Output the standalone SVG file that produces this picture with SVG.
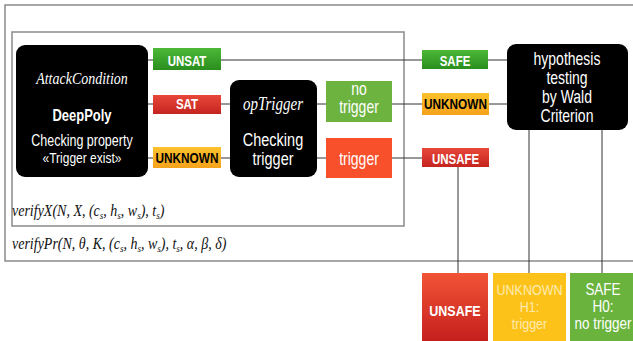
<svg xmlns="http://www.w3.org/2000/svg" width="633" height="341" viewBox="0 0 633 341">
<defs>
<linearGradient id="gG" x1="0" y1="0" x2="0" y2="1"><stop offset="0" stop-color="#4cb838"/><stop offset="1" stop-color="#2a8e1e"/></linearGradient>
<linearGradient id="gR" x1="0" y1="0" x2="0" y2="1"><stop offset="0" stop-color="#e8483a"/><stop offset="1" stop-color="#c4241e"/></linearGradient>
<linearGradient id="gY" x1="0" y1="0" x2="0" y2="1"><stop offset="0" stop-color="#fcc22c"/><stop offset="1" stop-color="#f5a21c"/></linearGradient>
<linearGradient id="gBR" x1="0" y1="0" x2="0" y2="1"><stop offset="0" stop-color="#f25436"/><stop offset="1" stop-color="#c41e1c"/></linearGradient>
</defs>
<style>
.frame{fill:none;stroke:#8a8a8a;stroke-width:1.5}
.conn line{stroke:#333;stroke-width:1}
.blk{fill:#000}
text{transform-box:fill-box;transform-origin:50% 50%;transform:scaleY(1.25)}
.s2{transform:scaleY(1.18)}
.f{transform:scaleY(1.12)}
.t{font-family:"Liberation Sans",Arial,sans-serif;text-anchor:middle}
.w{fill:#fff}
.b{font-weight:bold}
.it{font-family:"Liberation Serif","Times New Roman",serif;font-style:italic}
.pale{fill:#fdebb0}
</style>
<rect class="frame" x="5" y="5" width="640" height="256"/>
<rect class="frame" x="12" y="32" width="392" height="194"/>
<text class="it f" x="12" y="216" font-size="14" fill="#111">verifyX(N, X, (c<tspan font-size="9" dy="2">s</tspan><tspan dy="-2">, h</tspan><tspan font-size="9" dy="2">s</tspan><tspan dy="-2">, w</tspan><tspan font-size="9" dy="2">s</tspan><tspan dy="-2">), t</tspan><tspan font-size="9" dy="2">s</tspan><tspan dy="-2">)</tspan></text>
<text class="it f" x="12" y="249" font-size="14" fill="#111">verifyPr(N, θ, K, (c<tspan font-size="9" dy="2">s</tspan><tspan dy="-2">, h</tspan><tspan font-size="9" dy="2">s</tspan><tspan dy="-2">, w</tspan><tspan font-size="9" dy="2">s</tspan><tspan dy="-2">), t</tspan><tspan font-size="9" dy="2">s</tspan><tspan dy="-2">, α, β, δ)</tspan></text>
<g class="conn">
<line x1="148" y1="60" x2="507" y2="60"/>
<line x1="148" y1="104" x2="230" y2="104"/>
<line x1="148" y1="158" x2="230" y2="158"/>
<line x1="317" y1="104" x2="507" y2="104"/>
<line x1="317" y1="158" x2="422" y2="158"/>
<line x1="458" y1="167" x2="458" y2="273"/>
<line x1="529" y1="130" x2="529" y2="273"/>
<line x1="602" y1="130" x2="602" y2="273"/>
</g>
<g id="attack">
<rect class="blk" x="16" y="45" width="132" height="132" rx="9"/>
<text class="it w" x="82" y="82.5" font-size="14" text-anchor="middle">AttackCondition</text>
<text class="t w b" x="82" y="119.5" font-size="13">DeepPoly</text>
<text class="t w" x="82" y="145" font-size="12.5">Checking property</text>
<text class="t w" x="82" y="162" font-size="12">«Trigger exist»</text>
</g>
<g id="unsat"><rect x="153" y="48" width="68" height="22" fill="url(#gG)"/><text class="t w b" x="187" y="65" font-size="11.5">UNSAT</text></g>
<g id="sat"><rect x="153" y="95" width="68" height="19" fill="url(#gR)"/><text class="t w b" x="187" y="108" font-size="11.5">SAT</text></g>
<g id="unknown1"><rect x="153" y="147" width="68" height="21" fill="url(#gY)"/><text class="t b" x="187" y="162" font-size="11.8" fill="#000">UNKNOWN</text></g>
<g id="optrigger">
<rect class="blk" x="230" y="80" width="87" height="97" rx="9"/>
<text class="it w" x="273" y="108.5" font-size="15" text-anchor="middle">opTrigger</text>
<text class="t w" x="273" y="145" font-size="14.5">Checking</text>
<text class="t w" x="273" y="164" font-size="14.5">trigger</text>
</g>
<g id="notrigger"><rect x="326" y="81" width="66" height="41" fill="#6db33f"/><text class="t w" x="359" y="94" font-size="14">no</text><text class="t w" x="359" y="112" font-size="14">trigger</text></g>
<g id="trigger"><rect x="326" y="138" width="66" height="40" fill="#f9502c"/><text class="t w" x="359" y="164" font-size="14">trigger</text></g>
<g id="safe"><rect x="422" y="50" width="66" height="19" fill="url(#gG)"/><text class="t w b" x="455" y="65" font-size="11.5">SAFE</text></g>
<g id="unknown2"><rect x="422" y="93" width="67" height="22" fill="url(#gY)"/><text class="t b" x="455.5" y="108.5" font-size="11.8" fill="#000">UNKNOWN</text></g>
<g id="unsafe"><rect x="422" y="148" width="67" height="19" fill="url(#gR)"/><text class="t w b" x="455.5" y="163" font-size="11.5">UNSAFE</text></g>
<g id="wald">
<rect class="blk" x="507" y="44" width="121" height="86" rx="9"/>
<text class="t w" x="567" y="64" font-size="14">hypothesis</text>
<text class="t w" x="567" y="83" font-size="14">testing</text>
<text class="t w" x="567" y="102" font-size="14">by Wald</text>
<text class="t w" x="567" y="121" font-size="14">Criterion</text>
</g>
<g id="res-unsafe"><rect x="422" y="273" width="66" height="70" fill="url(#gBR)"/><text class="t w b s2" x="455" y="315.5" font-size="12.5">UNSAFE</text></g>
<g id="res-unknown"><rect x="493" y="273" width="73" height="70" fill="#fdc21a"/><text class="t pale s2" x="529.5" y="294.5" font-size="12.5">UNKNOWN</text><text class="t pale s2" x="529.5" y="311.5" font-size="12.5">H1:</text><text class="t pale s2" x="529.5" y="328" font-size="12.5">trigger</text></g>
<g id="res-safe"><rect x="570" y="273" width="70" height="70" fill="#6ab43e"/><text class="t w s2" x="603" y="294.5" font-size="13.5">SAFE</text><text class="t w s2" x="603" y="311.5" font-size="13.5">H0:</text><text class="t w s2" x="603" y="328" font-size="13.5">no trigger</text></g>
</svg>
